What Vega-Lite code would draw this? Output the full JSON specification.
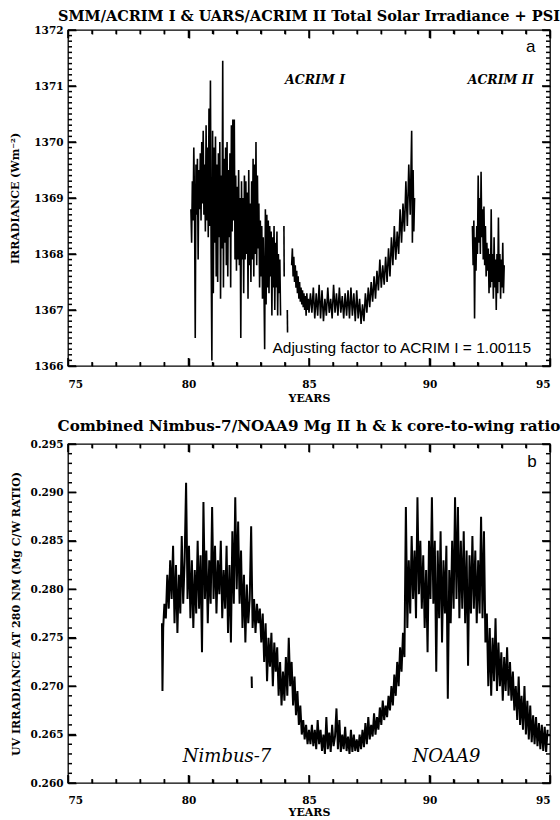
{
  "$schema": "https://vega.github.io/schema/vega-lite/v6.json",
  "background": "white",
  "padding": {"left": 9, "top": 7, "right": 0, "bottom": 0},
  "spacing": 78,
  "bounds": "flush",
  "config": {
    "view": {"stroke": "black", "strokeWidth": 1.3},
    "axis": {"domain": false, "ticks": false, "tickColor": "black", "tickWidth": 1.5, "labelColor": "black", "titleColor": "black", "grid": false,
      "labelFont": "DejaVu Serif", "labelFontWeight": "bold", "labelFontSize": 10.5,
      "titleFont": "DejaVu Serif", "titleFontWeight": "bold", "titleFontSize": 11},
    "tick": {"color": "black", "opacity": 1, "thickness": 1.5},
    "title": {"font": "DejaVu Serif", "fontWeight": "bold", "fontSize": 14.5, "color": "black", "anchor": "middle", "frame": "group"}
  },
  "datasets": {
    "xM": [{"t":75},{"t":80},{"t":85},{"t":90},{"t":95}],
    "xm": [{"t":76},{"t":77},{"t":78},{"t":79},{"t":81},{"t":82},{"t":83},{"t":84},{"t":86},{"t":87},{"t":88},{"t":89},{"t":91},{"t":92},{"t":93},{"t":94}],
    "y1M": [{"v":1366},{"v":1367},{"v":1368},{"v":1369},{"v":1370},{"v":1371},{"v":1372}],
    "y1m": [
      {"v":1366.1},{"v":1366.2},{"v":1366.3},{"v":1366.4},{"v":1366.5},{"v":1366.6},{"v":1366.7},{"v":1366.8},{"v":1366.9},
      {"v":1367.1},{"v":1367.2},{"v":1367.3},{"v":1367.4},{"v":1367.5},{"v":1367.6},{"v":1367.7},{"v":1367.8},{"v":1367.9},
      {"v":1368.1},{"v":1368.2},{"v":1368.3},{"v":1368.4},{"v":1368.5},{"v":1368.6},{"v":1368.7},{"v":1368.8},{"v":1368.9},
      {"v":1369.1},{"v":1369.2},{"v":1369.3},{"v":1369.4},{"v":1369.5},{"v":1369.6},{"v":1369.7},{"v":1369.8},{"v":1369.9},
      {"v":1370.1},{"v":1370.2},{"v":1370.3},{"v":1370.4},{"v":1370.5},{"v":1370.6},{"v":1370.7},{"v":1370.8},{"v":1370.9},
      {"v":1371.1},{"v":1371.2},{"v":1371.3},{"v":1371.4},{"v":1371.5},{"v":1371.6},{"v":1371.7},{"v":1371.8},{"v":1371.9}
    ],
    "y2M": [{"v":0.260},{"v":0.265},{"v":0.270},{"v":0.275},{"v":0.280},{"v":0.285},{"v":0.290},{"v":0.295}],
    "y2m": [
      {"v":0.261},{"v":0.262},{"v":0.263},{"v":0.264},{"v":0.266},{"v":0.267},{"v":0.268},{"v":0.269},
      {"v":0.271},{"v":0.272},{"v":0.273},{"v":0.274},{"v":0.276},{"v":0.277},{"v":0.278},{"v":0.279},
      {"v":0.281},{"v":0.282},{"v":0.283},{"v":0.284},{"v":0.286},{"v":0.287},{"v":0.288},{"v":0.289},
      {"v":0.291},{"v":0.292},{"v":0.293},{"v":0.294}
    ],
    "acrim": [
      {"t":80.10,"v":1368.8,"s":"A1"},{"t":80.13,"v":1368.2,"s":"A1"},{"t":80.16,"v":1369.3,"s":"A1"},{"t":80.19,"v":1368.6,"s":"A1"},{"t":80.22,"v":1369.9,"s":"A1"},{"t":80.25,"v":1368.9,"s":"A1"},{"t":80.28,"v":1366.5,"s":"A1"},{"t":80.31,"v":1369.6,"s":"A1"},{"t":80.34,"v":1368.7,"s":"A1"},{"t":80.37,"v":1369.7,"s":"A1"},
      {"t":80.40,"v":1367.9,"s":"A1"},{"t":80.43,"v":1369.5,"s":"A1"},{"t":80.46,"v":1368.8,"s":"A1"},{"t":80.49,"v":1369.8,"s":"A1"},{"t":80.52,"v":1368.6,"s":"A1"},{"t":80.55,"v":1370.0,"s":"A1"},{"t":80.58,"v":1368.9,"s":"A1"},{"t":80.61,"v":1370.2,"s":"A1"},{"t":80.64,"v":1368.7,"s":"A1"},{"t":80.67,"v":1369.6,"s":"A1"},
      {"t":80.70,"v":1368.4,"s":"A1"},{"t":80.73,"v":1370.3,"s":"A1"},{"t":80.76,"v":1368.6,"s":"A1"},{"t":80.79,"v":1369.9,"s":"A1"},{"t":80.82,"v":1368.3,"s":"A1"},{"t":80.85,"v":1370.6,"s":"A1"},{"t":80.88,"v":1368.5,"s":"A1"},{"t":80.91,"v":1371.1,"s":"A1"},{"t":80.94,"v":1368.0,"s":"A1"},{"t":80.97,"v":1366.1,"s":"A1"},
      {"t":81.00,"v":1370.2,"s":"A1"},{"t":81.03,"v":1367.3,"s":"A1"},{"t":81.06,"v":1369.9,"s":"A1"},{"t":81.09,"v":1368.2,"s":"A1"},{"t":81.12,"v":1370.1,"s":"A1"},{"t":81.15,"v":1367.6,"s":"A1"},{"t":81.18,"v":1369.6,"s":"A1"},{"t":81.21,"v":1367.5,"s":"A1"},{"t":81.24,"v":1369.8,"s":"A1"},{"t":81.27,"v":1368.3,"s":"A1"},
      {"t":81.30,"v":1370.0,"s":"A1"},{"t":81.33,"v":1367.2,"s":"A1"},{"t":81.36,"v":1369.4,"s":"A1"},{"t":81.39,"v":1368.1,"s":"A1"},{"t":81.42,"v":1371.45,"s":"A1"},{"t":81.45,"v":1367.4,"s":"A1"},{"t":81.48,"v":1369.7,"s":"A1"},{"t":81.51,"v":1368.2,"s":"A1"},{"t":81.54,"v":1369.9,"s":"A1"},{"t":81.57,"v":1367.8,"s":"A1"},
      {"t":81.60,"v":1370.0,"s":"A1"},{"t":81.63,"v":1367.6,"s":"A1"},{"t":81.66,"v":1369.5,"s":"A1"},{"t":81.69,"v":1368.3,"s":"A1"},{"t":81.72,"v":1369.8,"s":"A1"},{"t":81.75,"v":1367.4,"s":"A1"},{"t":81.78,"v":1370.3,"s":"A1"},{"t":81.81,"v":1368.4,"s":"A1"},{"t":81.84,"v":1370.4,"s":"A1"},{"t":81.87,"v":1368.6,"s":"A1"},
      {"t":81.90,"v":1370.4,"s":"A1"},{"t":81.93,"v":1367.9,"s":"A1"},{"t":81.96,"v":1369.4,"s":"A1"},{"t":81.99,"v":1367.7,"s":"A1"},{"t":82.02,"v":1369.2,"s":"A1"},{"t":82.05,"v":1367.9,"s":"A1"},{"t":82.08,"v":1369.5,"s":"A1"},{"t":82.11,"v":1367.8,"s":"A1"},{"t":82.14,"v":1369.0,"s":"A1"},{"t":82.17,"v":1366.5,"s":"A1"},
      {"t":82.20,"v":1369.3,"s":"A1"},{"t":82.23,"v":1367.9,"s":"A1"},{"t":82.26,"v":1369.0,"s":"A1"},{"t":82.29,"v":1367.3,"s":"A1"},{"t":82.32,"v":1369.4,"s":"A1"},{"t":82.35,"v":1367.9,"s":"A1"},{"t":82.38,"v":1369.3,"s":"A1"},{"t":82.41,"v":1368.0,"s":"A1"},{"t":82.44,"v":1369.1,"s":"A1"},{"t":82.47,"v":1367.2,"s":"A1"},
      {"t":82.50,"v":1369.5,"s":"A1"},{"t":82.53,"v":1367.8,"s":"A1"},{"t":82.56,"v":1368.9,"s":"A1"},{"t":82.59,"v":1367.5,"s":"A1"},{"t":82.62,"v":1369.3,"s":"A1"},{"t":82.65,"v":1367.9,"s":"A1"},{"t":82.68,"v":1369.7,"s":"A1"},{"t":82.71,"v":1367.6,"s":"A1"},{"t":82.74,"v":1369.6,"s":"A1"},{"t":82.77,"v":1368.0,"s":"A1"},
      {"t":82.80,"v":1370.0,"s":"A1"},{"t":82.83,"v":1367.8,"s":"A1"},{"t":82.86,"v":1369.4,"s":"A1"},{"t":82.89,"v":1368.1,"s":"A1"},{"t":82.92,"v":1368.9,"s":"A1"},{"t":82.95,"v":1367.4,"s":"A1"},{"t":82.98,"v":1368.6,"s":"A1"},{"t":83.01,"v":1367.6,"s":"A1"},{"t":83.04,"v":1368.5,"s":"A1"},{"t":83.07,"v":1367.2,"s":"A1"},
      {"t":83.10,"v":1368.3,"s":"A1"},{"t":83.13,"v":1367.5,"s":"A1"},{"t":83.16,"v":1366.3,"s":"A1"},{"t":83.19,"v":1368.8,"s":"A1"},{"t":83.22,"v":1367.1,"s":"A1"},{"t":83.25,"v":1368.7,"s":"A1"},{"t":83.28,"v":1367.4,"s":"A1"},{"t":83.31,"v":1368.6,"s":"A1"},{"t":83.34,"v":1367.3,"s":"A1"},{"t":83.37,"v":1368.5,"s":"A1"},
      {"t":83.40,"v":1367.6,"s":"A1"},{"t":83.43,"v":1368.4,"s":"A1"},{"t":83.46,"v":1366.9,"s":"A1"},{"t":83.49,"v":1368.3,"s":"A1"},{"t":83.52,"v":1367.4,"s":"A1"},{"t":83.55,"v":1368.5,"s":"A1"},{"t":83.58,"v":1367.0,"s":"A1"},{"t":83.61,"v":1368.2,"s":"A1"},{"t":83.64,"v":1367.4,"s":"A1"},{"t":83.67,"v":1368.4,"s":"A1"},
      {"t":83.70,"v":1366.9,"s":"A1"},{"t":83.73,"v":1368.0,"s":"A1"},{"t":83.76,"v":1367.3,"s":"A1"},{"t":83.79,"v":1367.9,"s":"A1"},{"t":83.82,"v":1366.9,"s":"A1"},
      {"t":83.96,"v":1368.5,"s":"G1"},{"t":83.97,"v":1367.6,"s":"G1"},
      {"t":84.10,"v":1367.0,"s":"G2"},{"t":84.11,"v":1366.6,"s":"G2"},
      {"t":84.28,"v":1367.8,"s":"A1b"},{"t":84.31,"v":1368.1,"s":"A1b"},{"t":84.34,"v":1367.6,"s":"A1b"},{"t":84.37,"v":1367.95,"s":"A1b"},{"t":84.40,"v":1367.5,"s":"A1b"},{"t":84.43,"v":1367.8,"s":"A1b"},{"t":84.46,"v":1367.4,"s":"A1b"},{"t":84.49,"v":1367.7,"s":"A1b"},{"t":84.52,"v":1367.3,"s":"A1b"},{"t":84.55,"v":1367.6,"s":"A1b"},
      {"t":84.58,"v":1367.2,"s":"A1b"},{"t":84.61,"v":1367.5,"s":"A1b"},{"t":84.64,"v":1367.15,"s":"A1b"},{"t":84.67,"v":1367.4,"s":"A1b"},{"t":84.70,"v":1367.1,"s":"A1b"},{"t":84.73,"v":1367.35,"s":"A1b"},{"t":84.76,"v":1367.05,"s":"A1b"},{"t":84.79,"v":1367.3,"s":"A1b"},{"t":84.82,"v":1367.0,"s":"A1b"},{"t":84.85,"v":1367.25,"s":"A1b"},
      {"t":84.88,"v":1366.9,"s":"A1b"},{"t":84.91,"v":1367.3,"s":"A1b"},{"t":84.94,"v":1367.0,"s":"A1b"},{"t":84.97,"v":1367.2,"s":"A1b"},{"t":85.00,"v":1366.95,"s":"A1b"},{"t":85.06,"v":1367.3,"s":"A1b"},{"t":85.12,"v":1366.95,"s":"A1b"},{"t":85.18,"v":1367.4,"s":"A1b"},{"t":85.24,"v":1366.85,"s":"A1b"},{"t":85.30,"v":1367.3,"s":"A1b"},
      {"t":85.36,"v":1366.9,"s":"A1b"},{"t":85.42,"v":1367.45,"s":"A1b"},{"t":85.48,"v":1366.85,"s":"A1b"},{"t":85.54,"v":1367.35,"s":"A1b"},{"t":85.60,"v":1366.8,"s":"A1b"},{"t":85.66,"v":1367.2,"s":"A1b"},{"t":85.72,"v":1366.9,"s":"A1b"},{"t":85.78,"v":1367.4,"s":"A1b"},{"t":85.84,"v":1366.95,"s":"A1b"},{"t":85.90,"v":1367.2,"s":"A1b"},
      {"t":85.96,"v":1366.85,"s":"A1b"},{"t":86.02,"v":1367.45,"s":"A1b"},{"t":86.08,"v":1366.95,"s":"A1b"},{"t":86.14,"v":1367.3,"s":"A1b"},{"t":86.20,"v":1366.9,"s":"A1b"},{"t":86.26,"v":1367.4,"s":"A1b"},{"t":86.32,"v":1366.95,"s":"A1b"},{"t":86.38,"v":1367.25,"s":"A1b"},{"t":86.44,"v":1366.85,"s":"A1b"},{"t":86.50,"v":1367.3,"s":"A1b"},
      {"t":86.56,"v":1366.9,"s":"A1b"},{"t":86.62,"v":1367.35,"s":"A1b"},{"t":86.68,"v":1366.85,"s":"A1b"},{"t":86.74,"v":1367.4,"s":"A1b"},{"t":86.80,"v":1366.9,"s":"A1b"},{"t":86.86,"v":1367.3,"s":"A1b"},{"t":86.92,"v":1366.8,"s":"A1b"},{"t":86.98,"v":1367.35,"s":"A1b"},{"t":87.04,"v":1366.85,"s":"A1b"},{"t":87.10,"v":1367.2,"s":"A1b"},
      {"t":87.16,"v":1366.75,"s":"A1b"},{"t":87.22,"v":1367.1,"s":"A1b"},{"t":87.28,"v":1366.8,"s":"A1b"},{"t":87.34,"v":1367.3,"s":"A1b"},{"t":87.40,"v":1366.95,"s":"A1b"},{"t":87.46,"v":1367.4,"s":"A1b"},{"t":87.52,"v":1367.05,"s":"A1b"},{"t":87.58,"v":1367.5,"s":"A1b"},{"t":87.64,"v":1367.15,"s":"A1b"},{"t":87.70,"v":1367.6,"s":"A1b"},
      {"t":87.76,"v":1367.2,"s":"A1b"},{"t":87.82,"v":1367.7,"s":"A1b"},{"t":87.88,"v":1367.35,"s":"A1b"},{"t":87.94,"v":1367.9,"s":"A1b"},{"t":88.00,"v":1367.4,"s":"A1b"},{"t":88.06,"v":1367.8,"s":"A1b"},{"t":88.12,"v":1367.45,"s":"A1b"},{"t":88.18,"v":1367.95,"s":"A1b"},{"t":88.24,"v":1367.5,"s":"A1b"},{"t":88.30,"v":1368.1,"s":"A1b"},
      {"t":88.36,"v":1367.6,"s":"A1b"},{"t":88.42,"v":1368.3,"s":"A1b"},{"t":88.48,"v":1367.8,"s":"A1b"},{"t":88.54,"v":1368.5,"s":"A1b"},{"t":88.60,"v":1367.9,"s":"A1b"},{"t":88.66,"v":1368.4,"s":"A1b"},{"t":88.72,"v":1368.0,"s":"A1b"},{"t":88.78,"v":1368.8,"s":"A1b"},{"t":88.84,"v":1368.2,"s":"A1b"},{"t":88.90,"v":1368.9,"s":"A1b"},
      {"t":88.96,"v":1368.4,"s":"A1b"},{"t":89.02,"v":1369.3,"s":"A1b"},{"t":89.08,"v":1368.5,"s":"A1b"},{"t":89.14,"v":1369.6,"s":"A1b"},{"t":89.20,"v":1368.7,"s":"A1b"},{"t":89.26,"v":1370.2,"s":"A1b"},{"t":89.29,"v":1368.2,"s":"A1b"},{"t":89.32,"v":1369.5,"s":"A1b"},{"t":89.35,"v":1368.4,"s":"A1b"},{"t":89.38,"v":1369.0,"s":"A1b"},
      {"t":91.78,"v":1368.5,"s":"A2"},{"t":91.81,"v":1367.8,"s":"A2"},{"t":91.84,"v":1368.6,"s":"A2"},{"t":91.87,"v":1366.85,"s":"A2"},{"t":91.90,"v":1368.3,"s":"A2"},{"t":91.93,"v":1367.7,"s":"A2"},{"t":91.96,"v":1368.5,"s":"A2"},{"t":91.99,"v":1368.0,"s":"A2"},{"t":92.02,"v":1369.4,"s":"A2"},{"t":92.05,"v":1368.2,"s":"A2"},
      {"t":92.08,"v":1369.0,"s":"A2"},{"t":92.11,"v":1368.0,"s":"A2"},{"t":92.14,"v":1369.47,"s":"A2"},{"t":92.17,"v":1368.3,"s":"A2"},{"t":92.20,"v":1368.8,"s":"A2"},{"t":92.23,"v":1367.9,"s":"A2"},{"t":92.26,"v":1368.85,"s":"A2"},{"t":92.29,"v":1367.8,"s":"A2"},{"t":92.32,"v":1368.5,"s":"A2"},{"t":92.35,"v":1367.6,"s":"A2"},
      {"t":92.38,"v":1368.2,"s":"A2"},{"t":92.41,"v":1367.7,"s":"A2"},{"t":92.44,"v":1368.1,"s":"A2"},{"t":92.47,"v":1367.3,"s":"A2"},{"t":92.50,"v":1368.0,"s":"A2"},{"t":92.53,"v":1367.4,"s":"A2"},{"t":92.56,"v":1368.8,"s":"A2"},{"t":92.59,"v":1367.5,"s":"A2"},{"t":92.62,"v":1368.0,"s":"A2"},{"t":92.65,"v":1367.2,"s":"A2"},
      {"t":92.68,"v":1368.3,"s":"A2"},{"t":92.71,"v":1367.4,"s":"A2"},{"t":92.74,"v":1367.9,"s":"A2"},{"t":92.77,"v":1367.0,"s":"A2"},{"t":92.80,"v":1368.0,"s":"A2"},{"t":92.83,"v":1367.3,"s":"A2"},{"t":92.86,"v":1368.65,"s":"A2"},{"t":92.89,"v":1367.5,"s":"A2"},{"t":92.92,"v":1368.0,"s":"A2"},{"t":92.95,"v":1367.2,"s":"A2"},
      {"t":92.98,"v":1367.9,"s":"A2"},{"t":93.01,"v":1367.4,"s":"A2"},{"t":93.04,"v":1368.2,"s":"A2"},{"t":93.07,"v":1367.3,"s":"A2"},{"t":93.10,"v":1367.8,"s":"A2"}
    ],
    "mg": [
      {"t":78.90,"v":0.2765,"s":"N"},{"t":78.92,"v":0.2695,"s":"N"},{"t":78.95,"v":0.2760,"s":"N"},{"t":79.00,"v":0.2785,"s":"N"},{"t":79.06,"v":0.2770,"s":"N"},{"t":79.12,"v":0.2815,"s":"N"},{"t":79.18,"v":0.2780,"s":"N"},{"t":79.24,"v":0.2830,"s":"N"},{"t":79.30,"v":0.2790,"s":"N"},{"t":79.36,"v":0.2845,"s":"N"},
      {"t":79.42,"v":0.2765,"s":"N"},{"t":79.48,"v":0.2825,"s":"N"},{"t":79.54,"v":0.2755,"s":"N"},{"t":79.60,"v":0.2815,"s":"N"},{"t":79.66,"v":0.2775,"s":"N"},{"t":79.72,"v":0.2855,"s":"N"},{"t":79.78,"v":0.2785,"s":"N"},{"t":79.84,"v":0.2830,"s":"N"},{"t":79.90,"v":0.2910,"s":"N"},{"t":79.96,"v":0.2790,"s":"N"},
      {"t":80.02,"v":0.2845,"s":"N"},{"t":80.08,"v":0.2770,"s":"N"},{"t":80.14,"v":0.2830,"s":"N"},{"t":80.20,"v":0.2760,"s":"N"},{"t":80.26,"v":0.2820,"s":"N"},{"t":80.32,"v":0.2775,"s":"N"},{"t":80.38,"v":0.2850,"s":"N"},{"t":80.44,"v":0.2780,"s":"N"},{"t":80.50,"v":0.2835,"s":"N"},{"t":80.56,"v":0.2735,"s":"N"},
      {"t":80.62,"v":0.2890,"s":"N"},{"t":80.68,"v":0.2790,"s":"N"},{"t":80.74,"v":0.2840,"s":"N"},{"t":80.80,"v":0.2765,"s":"N"},{"t":80.86,"v":0.2830,"s":"N"},{"t":80.92,"v":0.2785,"s":"N"},{"t":80.98,"v":0.2885,"s":"N"},{"t":81.04,"v":0.2790,"s":"N"},{"t":81.10,"v":0.2845,"s":"N"},{"t":81.16,"v":0.2775,"s":"N"},
      {"t":81.22,"v":0.2830,"s":"N"},{"t":81.28,"v":0.2795,"s":"N"},{"t":81.34,"v":0.2850,"s":"N"},{"t":81.40,"v":0.2770,"s":"N"},{"t":81.46,"v":0.2820,"s":"N"},{"t":81.52,"v":0.2780,"s":"N"},{"t":81.58,"v":0.2845,"s":"N"},{"t":81.64,"v":0.2755,"s":"N"},{"t":81.70,"v":0.2825,"s":"N"},{"t":81.76,"v":0.2745,"s":"N"},
      {"t":81.82,"v":0.2860,"s":"N"},{"t":81.88,"v":0.2785,"s":"N"},{"t":81.94,"v":0.2895,"s":"N"},{"t":82.00,"v":0.2800,"s":"N"},{"t":82.06,"v":0.2870,"s":"N"},{"t":82.12,"v":0.2785,"s":"N"},{"t":82.18,"v":0.2840,"s":"N"},{"t":82.24,"v":0.2760,"s":"N"},{"t":82.30,"v":0.2815,"s":"N"},{"t":82.36,"v":0.2745,"s":"N"},
      {"t":82.42,"v":0.2805,"s":"N"},{"t":82.48,"v":0.2765,"s":"N"},{"t":82.54,"v":0.2790,"s":"N"},{"t":82.60,"v":0.2865,"s":"N"},{"t":82.66,"v":0.2760,"s":"N"},{"t":82.72,"v":0.2790,"s":"N"},{"t":82.78,"v":0.2755,"s":"N"},{"t":82.84,"v":0.2785,"s":"N"},{"t":82.90,"v":0.2765,"s":"N"},{"t":82.96,"v":0.2780,"s":"N"},
      {"t":83.02,"v":0.2745,"s":"N"},{"t":83.08,"v":0.2775,"s":"N"},{"t":83.14,"v":0.2725,"s":"N"},{"t":83.20,"v":0.2765,"s":"N"},{"t":83.26,"v":0.2705,"s":"N"},{"t":83.32,"v":0.2750,"s":"N"},{"t":83.38,"v":0.2720,"s":"N"},{"t":83.44,"v":0.2755,"s":"N"},{"t":83.50,"v":0.2700,"s":"N"},{"t":83.56,"v":0.2745,"s":"N"},
      {"t":83.62,"v":0.2715,"s":"N"},{"t":83.68,"v":0.2740,"s":"N"},{"t":83.74,"v":0.2690,"s":"N"},{"t":83.80,"v":0.2725,"s":"N"},{"t":83.86,"v":0.2680,"s":"N"},{"t":83.92,"v":0.2715,"s":"N"},{"t":83.98,"v":0.2685,"s":"N"},{"t":84.04,"v":0.2730,"s":"N"},{"t":84.10,"v":0.2690,"s":"N"},{"t":84.16,"v":0.2750,"s":"N"},
      {"t":84.22,"v":0.2700,"s":"N"},{"t":84.28,"v":0.2725,"s":"N"},{"t":84.34,"v":0.2680,"s":"N"},{"t":84.40,"v":0.2710,"s":"N"},{"t":84.46,"v":0.2670,"s":"N"},{"t":84.52,"v":0.2695,"s":"N"},{"t":84.58,"v":0.2660,"s":"N"},{"t":84.64,"v":0.2680,"s":"N"},{"t":84.70,"v":0.2650,"s":"N"},{"t":84.76,"v":0.2665,"s":"N"},
      {"t":84.82,"v":0.2645,"s":"N"},{"t":84.88,"v":0.2660,"s":"N"},{"t":84.94,"v":0.2640,"s":"N"},{"t":85.00,"v":0.2655,"s":"N"},{"t":85.06,"v":0.2640,"s":"N"},{"t":85.12,"v":0.2660,"s":"N"},{"t":85.18,"v":0.2638,"s":"N"},{"t":85.24,"v":0.2655,"s":"N"},{"t":85.30,"v":0.2635,"s":"N"},{"t":85.36,"v":0.2665,"s":"N"},
      {"t":85.42,"v":0.2640,"s":"N"},{"t":85.48,"v":0.2655,"s":"N"},{"t":85.54,"v":0.2633,"s":"N"},{"t":85.60,"v":0.2650,"s":"N"},{"t":85.66,"v":0.2630,"s":"N"},{"t":85.72,"v":0.2668,"s":"N"},{"t":85.78,"v":0.2635,"s":"N"},{"t":85.84,"v":0.2652,"s":"N"},{"t":85.90,"v":0.2632,"s":"N"},{"t":85.96,"v":0.2660,"s":"N"},
      {"t":86.02,"v":0.2638,"s":"N"},{"t":86.08,"v":0.2648,"s":"N"},{"t":86.14,"v":0.2677,"s":"N"},{"t":86.20,"v":0.2635,"s":"N"},{"t":86.26,"v":0.2665,"s":"N"},{"t":86.32,"v":0.2632,"s":"N"},{"t":86.38,"v":0.2650,"s":"N"},{"t":86.44,"v":0.2635,"s":"N"},{"t":86.50,"v":0.2658,"s":"N"},{"t":86.56,"v":0.2633,"s":"N"},
      {"t":86.62,"v":0.2648,"s":"N"},{"t":86.68,"v":0.2630,"s":"N"},{"t":86.74,"v":0.2655,"s":"N"},{"t":86.80,"v":0.2632,"s":"N"},{"t":86.86,"v":0.2650,"s":"N"},{"t":86.92,"v":0.2633,"s":"N"},{"t":86.98,"v":0.2645,"s":"N"},{"t":87.04,"v":0.2632,"s":"N"},{"t":87.10,"v":0.2650,"s":"N"},{"t":87.16,"v":0.2635,"s":"N"},
      {"t":87.22,"v":0.2655,"s":"N"},{"t":87.28,"v":0.2637,"s":"N"},{"t":87.34,"v":0.2662,"s":"N"},{"t":87.40,"v":0.2640,"s":"N"},{"t":87.46,"v":0.2668,"s":"N"},{"t":87.52,"v":0.2645,"s":"N"},{"t":87.58,"v":0.2660,"s":"N"},{"t":87.64,"v":0.2648,"s":"N"},{"t":87.70,"v":0.2672,"s":"N"},{"t":87.76,"v":0.2650,"s":"N"},
      {"t":87.82,"v":0.2668,"s":"N"},{"t":87.88,"v":0.2655,"s":"N"},{"t":87.94,"v":0.2678,"s":"N"},{"t":88.00,"v":0.2660,"s":"N"},{"t":88.06,"v":0.2685,"s":"N"},{"t":88.12,"v":0.2665,"s":"N"},{"t":88.18,"v":0.2680,"s":"N"},{"t":88.24,"v":0.2668,"s":"N"},{"t":88.30,"v":0.2690,"s":"N"},{"t":88.36,"v":0.2675,"s":"N"},
      {"t":88.42,"v":0.2700,"s":"N"},{"t":88.48,"v":0.2680,"s":"N"},{"t":88.54,"v":0.2712,"s":"N"},{"t":88.60,"v":0.2690,"s":"N"},{"t":88.66,"v":0.2725,"s":"N"},{"t":88.72,"v":0.2700,"s":"N"},{"t":88.78,"v":0.2740,"s":"N"},{"t":88.84,"v":0.2715,"s":"N"},{"t":88.90,"v":0.2755,"s":"N"},{"t":88.96,"v":0.2730,"s":"N"},
      {"t":89.02,"v":0.2885,"s":"N"},{"t":89.08,"v":0.2760,"s":"N"},{"t":89.14,"v":0.2830,"s":"N"},{"t":89.20,"v":0.2775,"s":"N"},{"t":89.26,"v":0.2855,"s":"N"},{"t":89.32,"v":0.2790,"s":"N"},{"t":89.38,"v":0.2840,"s":"N"},{"t":89.44,"v":0.2770,"s":"N"},{"t":89.50,"v":0.2895,"s":"N"},{"t":89.56,"v":0.2795,"s":"N"},
      {"t":89.62,"v":0.2850,"s":"N"},{"t":89.68,"v":0.2780,"s":"N"},{"t":89.74,"v":0.2835,"s":"N"},{"t":89.80,"v":0.2760,"s":"N"},{"t":89.86,"v":0.2820,"s":"N"},{"t":89.92,"v":0.2735,"s":"N"},{"t":89.98,"v":0.2850,"s":"N"},{"t":90.04,"v":0.2790,"s":"N"},{"t":90.10,"v":0.2895,"s":"N"},{"t":90.16,"v":0.2785,"s":"N"},
      {"t":90.22,"v":0.2850,"s":"N"},{"t":90.28,"v":0.2715,"s":"N"},{"t":90.34,"v":0.2840,"s":"N"},{"t":90.40,"v":0.2770,"s":"N"},{"t":90.46,"v":0.2860,"s":"N"},{"t":90.52,"v":0.2745,"s":"N"},{"t":90.58,"v":0.2830,"s":"N"},{"t":90.64,"v":0.2775,"s":"N"},{"t":90.70,"v":0.2845,"s":"N"},{"t":90.76,"v":0.2687,"s":"N"},
      {"t":90.82,"v":0.2820,"s":"N"},{"t":90.88,"v":0.2765,"s":"N"},{"t":90.94,"v":0.2850,"s":"N"},{"t":91.00,"v":0.2780,"s":"N"},{"t":91.06,"v":0.2895,"s":"N"},{"t":91.12,"v":0.2790,"s":"N"},{"t":91.18,"v":0.2885,"s":"N"},{"t":91.24,"v":0.2770,"s":"N"},{"t":91.30,"v":0.2850,"s":"N"},{"t":91.36,"v":0.2780,"s":"N"},
      {"t":91.42,"v":0.2860,"s":"N"},{"t":91.48,"v":0.2765,"s":"N"},{"t":91.54,"v":0.2840,"s":"N"},{"t":91.60,"v":0.2721,"s":"N"},{"t":91.66,"v":0.2835,"s":"N"},{"t":91.72,"v":0.2775,"s":"N"},{"t":91.78,"v":0.2855,"s":"N"},{"t":91.84,"v":0.2780,"s":"N"},{"t":91.90,"v":0.2840,"s":"N"},{"t":91.96,"v":0.2765,"s":"N"},
      {"t":92.02,"v":0.2830,"s":"N"},{"t":92.08,"v":0.2775,"s":"N"},{"t":92.14,"v":0.2875,"s":"N"},{"t":92.20,"v":0.2770,"s":"N"},{"t":92.26,"v":0.2860,"s":"N"},{"t":92.32,"v":0.2745,"s":"N"},{"t":92.38,"v":0.2775,"s":"N"},{"t":92.44,"v":0.2700,"s":"N"},{"t":92.50,"v":0.2760,"s":"N"},{"t":92.56,"v":0.2690,"s":"N"},
      {"t":92.62,"v":0.2750,"s":"N"},{"t":92.68,"v":0.2705,"s":"N"},{"t":92.74,"v":0.2770,"s":"N"},{"t":92.80,"v":0.2695,"s":"N"},{"t":92.86,"v":0.2745,"s":"N"},{"t":92.92,"v":0.2700,"s":"N"},{"t":92.98,"v":0.2735,"s":"N"},{"t":93.04,"v":0.2685,"s":"N"},{"t":93.10,"v":0.2730,"s":"N"},{"t":93.16,"v":0.2695,"s":"N"},
      {"t":93.22,"v":0.2740,"s":"N"},{"t":93.28,"v":0.2690,"s":"N"},{"t":93.34,"v":0.2725,"s":"N"},{"t":93.40,"v":0.2685,"s":"N"},{"t":93.46,"v":0.2715,"s":"N"},{"t":93.52,"v":0.2675,"s":"N"},{"t":93.58,"v":0.2700,"s":"N"},{"t":93.64,"v":0.2665,"s":"N"},{"t":93.70,"v":0.2710,"s":"N"},{"t":93.76,"v":0.2660,"s":"N"},
      {"t":93.82,"v":0.2690,"s":"N"},{"t":93.88,"v":0.2655,"s":"N"},{"t":93.94,"v":0.2700,"s":"N"},{"t":94.00,"v":0.2650,"s":"N"},{"t":94.06,"v":0.2685,"s":"N"},{"t":94.12,"v":0.2645,"s":"N"},{"t":94.18,"v":0.2680,"s":"N"},{"t":94.24,"v":0.2642,"s":"N"},{"t":94.30,"v":0.2670,"s":"N"},{"t":94.36,"v":0.2640,"s":"N"},
      {"t":94.42,"v":0.2668,"s":"N"},{"t":94.48,"v":0.2638,"s":"N"},{"t":94.54,"v":0.2662,"s":"N"},{"t":94.60,"v":0.2635,"s":"N"},{"t":94.66,"v":0.2660,"s":"N"},{"t":94.72,"v":0.2633,"s":"N"},{"t":94.78,"v":0.2658,"s":"N"},{"t":94.84,"v":0.2632,"s":"N"},{"t":94.90,"v":0.2655,"s":"N"},
      {"t":82.62,"v":0.2710,"s":"N2"},{"t":82.63,"v":0.2698,"s":"N2"}
    ]
  },
  "vconcat": [
    {
      "width": 482,
      "height": 336,
      "title": {"text": "SMM/ACRIM I & UARS/ACRIM II Total Solar Irradiance + PSI", "offset": 1},
      "resolve": {"axis": {"x": "independent", "y": "independent"}},
      "layer": [
        {
          "data": {"name": "acrim"},
          "mark": {"type": "line", "color": "black", "strokeWidth": 1.6},
          "encoding": {
            "x": {"field": "t", "type": "quantitative", "scale": {"domain": [75, 95], "nice": false, "zero": false},
              "axis": {"orient": "bottom", "values": [75, 80, 85, 90, 95], "format": "d", "labelPadding": 13, "title": "YEARS", "titlePadding": 3}},
            "y": {"field": "v", "type": "quantitative", "scale": {"domain": [1366, 1372], "nice": false, "zero": false},
              "axis": {"orient": "left", "values": [1366, 1367, 1368, 1369, 1370, 1371, 1372], "format": "d", "labelPadding": 5, "title": "IRRADIANCE (Wm⁻²)", "titlePadding": 13}},
            "detail": {"field": "s"}
          }
        },
        {"data": {"name": "xM"}, "mark": {"type": "tick", "orient": "vertical", "size": 8, "yOffset": -4},
         "encoding": {"x": {"field": "t", "type": "quantitative", "axis": {"orient": "bottom", "values": [75, 80, 85, 90, 95], "labels": false, "ticks": true, "offset": -8, "tickSize": 8, "title": null}}, "y": {"datum": 1366, "axis": null}}},
        {"data": {"name": "xm"}, "mark": {"type": "tick", "orient": "vertical", "size": 4, "yOffset": -2},
         "encoding": {"x": {"field": "t", "type": "quantitative", "axis": {"orient": "bottom", "values": [76,77,78,79,81,82,83,84,86,87,88,89,91,92,93,94], "labels": false, "ticks": true, "offset": -4, "tickSize": 4, "title": null}}, "y": {"datum": 1366, "axis": null}}},
        {"data": {"name": "xM"}, "mark": {"type": "tick", "orient": "vertical", "size": 8, "yOffset": 4},
         "encoding": {"x": {"field": "t", "type": "quantitative", "axis": {"orient": "top", "values": [75, 80, 85, 90, 95], "labels": false, "ticks": true, "offset": -8, "tickSize": 8, "title": null}}, "y": {"datum": 1372, "axis": null}}},
        {"data": {"name": "xm"}, "mark": {"type": "tick", "orient": "vertical", "size": 4, "yOffset": 2},
         "encoding": {"x": {"field": "t", "type": "quantitative", "axis": {"orient": "top", "values": [76,77,78,79,81,82,83,84,86,87,88,89,91,92,93,94], "labels": false, "ticks": true, "offset": -4, "tickSize": 4, "title": null}}, "y": {"datum": 1372, "axis": null}}},
        {"data": {"name": "y1M"}, "mark": {"type": "tick", "orient": "horizontal", "size": 8, "xOffset": 4},
         "encoding": {"y": {"field": "v", "type": "quantitative", "axis": {"orient": "left", "values": [1366, 1367, 1368, 1369, 1370, 1371, 1372], "labels": false, "ticks": true, "offset": -8, "tickSize": 8, "title": null}}, "x": {"datum": 75, "axis": null}}},
        {"data": {"name": "y1m"}, "mark": {"type": "tick", "orient": "horizontal", "size": 4, "xOffset": 2},
         "encoding": {"y": {"field": "v", "type": "quantitative", "axis": null}, "x": {"datum": 75, "axis": null}}},
        {"data": {"name": "y1M"}, "mark": {"type": "tick", "orient": "horizontal", "size": 8, "xOffset": -4},
         "encoding": {"y": {"field": "v", "type": "quantitative", "axis": {"orient": "right", "values": [1366, 1367, 1368, 1369, 1370, 1371, 1372], "labels": false, "ticks": true, "offset": -8, "tickSize": 8, "title": null}}, "x": {"datum": 95, "axis": null}}},
        {"data": {"name": "y1m"}, "mark": {"type": "tick", "orient": "horizontal", "size": 4, "xOffset": -2},
         "encoding": {"y": {"field": "v", "type": "quantitative", "axis": null}, "x": {"datum": 95, "axis": null}}},
        {
          "data": {"values": [{"t": 85.25, "v": 1371.1, "label": "ACRIM I"}, {"t": 92.95, "v": 1371.1, "label": "ACRIM II"}]},
          "mark": {"type": "text", "font": "DejaVu Serif", "fontWeight": "bold", "fontStyle": "italic", "fontSize": 12.5, "color": "black", "align": "center", "baseline": "middle"},
          "encoding": {
            "x": {"field": "t", "type": "quantitative", "axis": null},
            "y": {"field": "v", "type": "quantitative", "axis": null},
            "text": {"field": "label"}
          }
        },
        {
          "data": {"values": [{"t": 88.85, "v": 1366.32, "label": "Adjusting factor to ACRIM I = 1.00115"}]},
          "mark": {"type": "text", "font": "Liberation Sans", "fontSize": 15.5, "color": "black", "align": "center", "baseline": "middle"},
          "encoding": {
            "x": {"field": "t", "type": "quantitative", "axis": null},
            "y": {"field": "v", "type": "quantitative", "axis": null},
            "text": {"field": "label"}
          }
        },
        {
          "data": {"values": [{"t": 94.2, "v": 1371.7, "label": "a"}]},
          "mark": {"type": "text", "font": "Liberation Sans", "fontSize": 17, "color": "black", "align": "center", "baseline": "middle"},
          "encoding": {
            "x": {"field": "t", "type": "quantitative", "axis": null},
            "y": {"field": "v", "type": "quantitative", "axis": null},
            "text": {"field": "label"}
          }
        }
      ]
    },
    {
      "width": 482,
      "height": 339,
      "title": {"text": "Combined Nimbus-7/NOAA9 Mg II h & k core-to-wing ratio", "offset": 5, "fontSize": 15.2},
      "resolve": {"axis": {"x": "independent", "y": "independent"}},
      "layer": [
        {
          "data": {"name": "mg"},
          "mark": {"type": "line", "color": "black", "strokeWidth": 2},
          "encoding": {
            "x": {"field": "t", "type": "quantitative", "scale": {"domain": [75, 95], "nice": false, "zero": false},
              "axis": {"orient": "bottom", "values": [75, 80, 85, 90, 95], "format": "d", "labelPadding": 12, "title": "YEARS", "titlePadding": 1}},
            "y": {"field": "v", "type": "quantitative", "scale": {"domain": [0.26, 0.295], "nice": false, "zero": false},
              "axis": {"orient": "left", "values": [0.26, 0.265, 0.27, 0.275, 0.28, 0.285, 0.29, 0.295], "format": ".3f", "labelPadding": 5, "title": "UV IRRADIANCE AT 280 NM (Mg C/W RATIO)", "titlePadding": 9}},
            "detail": {"field": "s"}
          }
        },
        {"data": {"name": "xM"}, "mark": {"type": "tick", "orient": "vertical", "size": 8, "yOffset": -4},
         "encoding": {"x": {"field": "t", "type": "quantitative", "axis": {"orient": "bottom", "values": [75, 80, 85, 90, 95], "labels": false, "ticks": true, "offset": -8, "tickSize": 8, "title": null}}, "y": {"datum": 0.26, "axis": null}}},
        {"data": {"name": "xm"}, "mark": {"type": "tick", "orient": "vertical", "size": 4, "yOffset": -2},
         "encoding": {"x": {"field": "t", "type": "quantitative", "axis": {"orient": "bottom", "values": [76,77,78,79,81,82,83,84,86,87,88,89,91,92,93,94], "labels": false, "ticks": true, "offset": -4, "tickSize": 4, "title": null}}, "y": {"datum": 0.26, "axis": null}}},
        {"data": {"name": "xM"}, "mark": {"type": "tick", "orient": "vertical", "size": 8, "yOffset": 4},
         "encoding": {"x": {"field": "t", "type": "quantitative", "axis": {"orient": "top", "values": [75, 80, 85, 90, 95], "labels": false, "ticks": true, "offset": -8, "tickSize": 8, "title": null}}, "y": {"datum": 0.295, "axis": null}}},
        {"data": {"name": "xm"}, "mark": {"type": "tick", "orient": "vertical", "size": 4, "yOffset": 2},
         "encoding": {"x": {"field": "t", "type": "quantitative", "axis": {"orient": "top", "values": [76,77,78,79,81,82,83,84,86,87,88,89,91,92,93,94], "labels": false, "ticks": true, "offset": -4, "tickSize": 4, "title": null}}, "y": {"datum": 0.295, "axis": null}}},
        {"data": {"name": "y2M"}, "mark": {"type": "tick", "orient": "horizontal", "size": 8, "xOffset": 4},
         "encoding": {"y": {"field": "v", "type": "quantitative", "axis": {"orient": "left", "values": [0.26, 0.265, 0.27, 0.275, 0.28, 0.285, 0.29, 0.295], "labels": false, "ticks": true, "offset": -8, "tickSize": 8, "title": null}}, "x": {"datum": 75, "axis": null}}},
        {"data": {"name": "y2m"}, "mark": {"type": "tick", "orient": "horizontal", "size": 4, "xOffset": 2},
         "encoding": {"y": {"field": "v", "type": "quantitative", "axis": null}, "x": {"datum": 75, "axis": null}}},
        {"data": {"name": "y2M"}, "mark": {"type": "tick", "orient": "horizontal", "size": 8, "xOffset": -4},
         "encoding": {"y": {"field": "v", "type": "quantitative", "axis": {"orient": "right", "values": [0.26, 0.265, 0.27, 0.275, 0.28, 0.285, 0.29, 0.295], "labels": false, "ticks": true, "offset": -8, "tickSize": 8, "title": null}}, "x": {"datum": 95, "axis": null}}},
        {"data": {"name": "y2m"}, "mark": {"type": "tick", "orient": "horizontal", "size": 4, "xOffset": -2},
         "encoding": {"y": {"field": "v", "type": "quantitative", "axis": null}, "x": {"datum": 95, "axis": null}}},
        {
          "data": {"values": [{"t": 81.6, "v": 0.2627, "label": "Nimbus-7"}, {"t": 90.7, "v": 0.2627, "label": "NOAA9"}]},
          "mark": {"type": "text", "font": "DejaVu Serif", "fontStyle": "italic", "fontSize": 18, "color": "black", "align": "center", "baseline": "middle"},
          "encoding": {
            "x": {"field": "t", "type": "quantitative", "axis": null},
            "y": {"field": "v", "type": "quantitative", "axis": null},
            "text": {"field": "label"}
          }
        },
        {
          "data": {"values": [{"t": 94.25, "v": 0.2931, "label": "b"}]},
          "mark": {"type": "text", "font": "Liberation Sans", "fontSize": 17, "color": "black", "align": "center", "baseline": "middle"},
          "encoding": {
            "x": {"field": "t", "type": "quantitative", "axis": null},
            "y": {"field": "v", "type": "quantitative", "axis": null},
            "text": {"field": "label"}
          }
        }
      ]
    }
  ]
}
